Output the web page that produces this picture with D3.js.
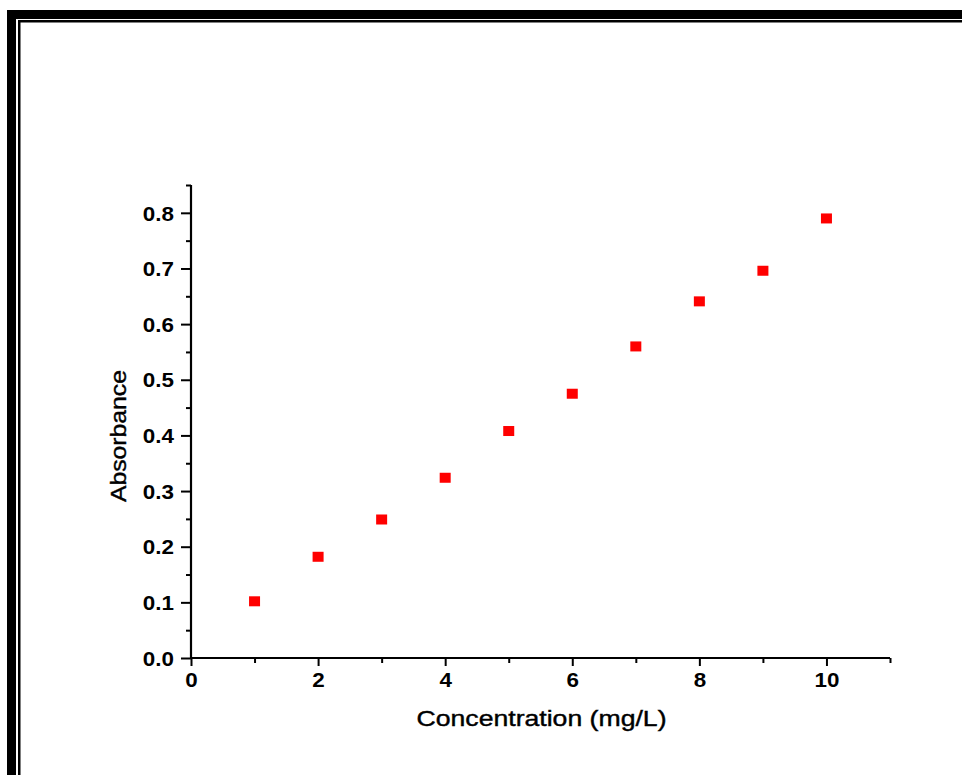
<!DOCTYPE html>
<html>
<head>
<meta charset="utf-8">
<script src="https://cdn.jsdelivr.net/npm/d3@7"></script>
<style>
  html, body { margin: 0; padding: 0; background: #fff; }
  svg { display: block; }
</style>
</head>
<body>
<script>
// ---- data ----
const concentration = [1, 2, 3, 4, 5, 6, 7, 8, 9, 10];
const absorbance = [0.101, 0.181, 0.248, 0.323, 0.407, 0.474, 0.559, 0.640, 0.695, 0.789];
const xTicks = [0, 2, 4, 6, 8, 10];
const xMinorTicks = [1, 3, 5, 7, 9, 11];
const yTicks = [0.0, 0.1, 0.2, 0.3, 0.4, 0.5, 0.6, 0.7, 0.8];
const yMinorTicks = [0.05, 0.15, 0.25, 0.35, 0.45, 0.55, 0.65, 0.75, 0.85];
const xTitle = "Concentration (mg/L)";
const yTitle = "Absorbance";

const W = 962, H = 775;
const svg = d3.select("body").append("svg").attr("width", W).attr("height", H);
svg.append("rect").attr("width", W).attr("height", H).attr("fill", "#fff");

// frame borders
svg.append("rect").attr("x", 7).attr("y", 10).attr("width", W - 7).attr("height", 9).attr("fill", "#000");
svg.append("rect").attr("x", 7).attr("y", 10).attr("width", 9).attr("height", H - 10).attr("fill", "#000");
svg.append("rect").attr("x", 18).attr("y", 20).attr("width", W - 18).attr("height", 2.5).attr("fill", "#000");
svg.append("rect").attr("x", 18).attr("y", 20).attr("width", 2.5).attr("height", H - 20).attr("fill", "#000");

const pLeft = 191, pRight = 890, pTop = 185, pBottom = 658;
const x = d3.scaleLinear().domain([0, 11]).range([pLeft, pRight]);
const y = d3.scaleLinear().domain([0, 0.85]).range([pBottom, pTop]);

const font = "'Liberation Sans', Arial, Helvetica, sans-serif";

// minor ticks
svg.append("g").attr("transform", `translate(0,${pBottom})`)
  .call(d3.axisBottom(x).tickValues(xMinorTicks).tickSize(5).tickFormat(""))
  .call(g => g.select(".domain").remove())
  .call(g => g.selectAll("line").attr("stroke", "#000").attr("stroke-width", 2));
svg.append("g").attr("transform", `translate(${pLeft},0)`)
  .call(d3.axisLeft(y).tickValues(yMinorTicks).tickSize(5).tickFormat(""))
  .call(g => g.select(".domain").remove())
  .call(g => g.selectAll("line").attr("stroke", "#000").attr("stroke-width", 2));

// major axes
const xAxis = svg.append("g").attr("transform", `translate(0,${pBottom})`)
  .call(d3.axisBottom(x).tickValues(xTicks).tickSize(8).tickPadding(7).tickFormat(d3.format("d")));
const yAxis = svg.append("g").attr("transform", `translate(${pLeft},0)`)
  .call(d3.axisLeft(y).tickValues(yTicks).tickSize(10).tickPadding(7).tickFormat(d3.format(".1f")));

[xAxis, yAxis].forEach(g => {
  g.select(".domain").remove();
  g.selectAll("line").attr("stroke", "#000").attr("stroke-width", 2);
  g.selectAll("text").attr("fill", "#000").style("font-family", font)
    .style("font-size", "20px").style("font-weight", "bold")
    .each(function () {
      const len = this.getComputedTextLength();
      d3.select(this).attr("textLength", len * 1.12).attr("lengthAdjust", "spacingAndGlyphs");
    });
});
yAxis.selectAll("text").attr("dy", "0.36em");

// axis lines
svg.append("line").attr("x1", pLeft).attr("x2", pRight).attr("y1", pBottom).attr("y2", pBottom)
  .attr("stroke", "#000").attr("stroke-width", 2.2);
svg.append("line").attr("x1", pLeft).attr("x2", pLeft).attr("y1", pTop).attr("y2", pBottom + 1)
  .attr("stroke", "#000").attr("stroke-width", 2.2);

// data points
const pts = concentration.map((c, i) => ({ c, a: absorbance[i] }));
const s = 11;
svg.append("g").selectAll("rect").data(pts).join("rect")
  .attr("x", d => x(d.c) - s / 2)
  .attr("y", d => y(d.a) - s / 2)
  .attr("width", s).attr("height", s - 1)
  .attr("fill", "#ff0000");

// titles
svg.append("text").attr("x", (416 + 667) / 2).attr("y", 726)
  .attr("text-anchor", "middle").style("font-family", font).style("font-size", "22px")
  .attr("stroke", "#000").attr("stroke-width", 0.4)
  .attr("textLength", 250).attr("lengthAdjust", "spacingAndGlyphs")
  .text(xTitle);
svg.append("text").attr("transform", "translate(126,436) rotate(-90)")
  .attr("text-anchor", "middle").style("font-family", font).style("font-size", "22px")
  .attr("stroke", "#000").attr("stroke-width", 0.4)
  .attr("textLength", 132).attr("lengthAdjust", "spacingAndGlyphs")
  .text(yTitle);
</script>
</body>
</html>
